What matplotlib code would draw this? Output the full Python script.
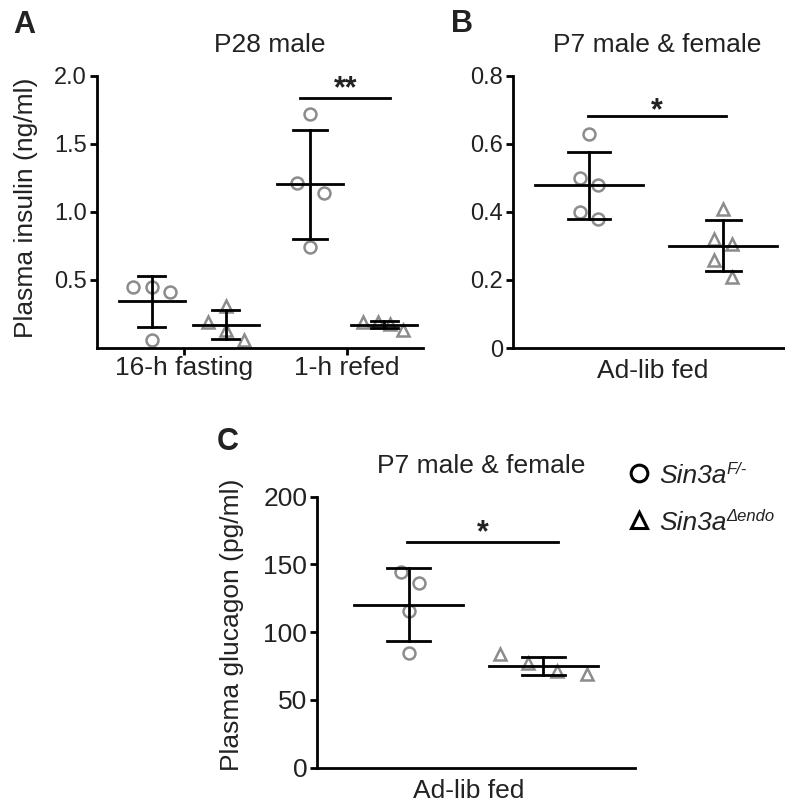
import numpy as np
import matplotlib.pyplot as plt
from matplotlib.lines import Line2D

plt.rcParams['font.family'] = ['Liberation Sans', 'DejaVu Sans']

# data
insulin_fast_wt = [0.45, 0.45, 0.41, 0.06]
insulin_fast_ko = [0.19, 0.31, 0.13, 0.06]
insulin_refed_wt = [1.72, 1.21, 1.14, 0.745]
insulin_refed_ko = [0.19, 0.19, 0.18, 0.13]
p7_insulin_wt = [0.63, 0.50, 0.48, 0.40, 0.38]
p7_insulin_ko = [0.41, 0.32, 0.305, 0.26, 0.21]
p7_glucagon_wt = [144.6, 136.5, 115.9, 84.4]
p7_glucagon_ko = [83.7, 77.5, 71.3, 68.9]

a_categories = ['16-h fasting', '1-h refed']
a_yticks = [0.5, 1.0, 1.5, 2.0]
b_yticks = [0, 0.2, 0.4, 0.6, 0.8]
c_yticks = [0, 50, 100, 150, 200]

GRAY = '#8c8c8c'
TXT = '#222222'
LW = 2.0
W, H = 785, 805


def draw_group(ax, x0, vals, jit, marker, half_w, cap_w):
    vals = np.array(vals)
    ax.plot(x0 + np.array(jit), vals, linestyle='none', marker=marker,
            markersize=8.6, markerfacecolor='none', markeredgecolor=GRAY,
            markeredgewidth=1.8, zorder=2, clip_on=False)
    m = vals.mean()
    sd = vals.std(ddof=1)
    ax.plot([x0 - half_w, x0 + half_w], [m, m], color='k', lw=LW, zorder=3)
    ax.plot([x0, x0], [m - sd, m + sd], color='k', lw=LW, zorder=3)
    for y in (m - sd, m + sd):
        ax.plot([x0 - cap_w, x0 + cap_w], [y, y], color='k', lw=LW, zorder=3)


def style(ax, ysize):
    for s in ('top', 'right'):
        ax.spines[s].set_visible(False)
    for s in ('left', 'bottom'):
        ax.spines[s].set_linewidth(LW)
        ax.spines[s].set_color('k')
    ax.tick_params(axis='y', length=5, width=LW, labelsize=ysize, pad=2,
                   labelcolor=TXT)
    ax.tick_params(axis='x', length=5, width=LW, labelsize=19, pad=1,
                   labelcolor=TXT)


def sig(ax, x1, x2, y, label, off):
    ax.plot([x1, x2], [y, y], color='k', lw=LW)
    ax.annotate(label, xy=((x1 + x2) / 2, y), xytext=(0, off),
                textcoords='offset points', ha='center', va='baseline',
                fontsize=22, fontweight='bold', color=TXT)


def axes_px(left, top, right, bottom):
    return fig.add_axes([left / W, 1 - bottom / H, (right - left) / W, (bottom - top) / H])


fig = plt.figure(figsize=(W / 100, H / 100), dpi=100)

# ---- A
axA = axes_px(96.5, 76, 423, 348)
style(axA, 17)
draw_group(axA, -0.2, insulin_fast_wt, [-0.115, 0, 0.11, 0], 'o', 0.202, 0.083)
draw_group(axA, 0.255, insulin_fast_ko, [-0.11, 0, 0, 0.11], '^', 0.202, 0.083)
draw_group(axA, 0.773, insulin_refed_wt, [0, -0.08, 0.086, 0], 'o', 0.202, 0.104)
draw_group(axA, 1.227, insulin_refed_ko, [-0.13, -0.037, 0.037, 0.117], '^', 0.202, 0.083)
axA.set_xlim(-0.54, 1.466)
axA.set_ylim(0, 2.0)
axA.set_xticks([0, 1])
axA.set_xticklabels(a_categories)
axA.set_yticks(a_yticks)
axA.set_yticklabels(['0.5', '1.0', '1.5', '2.0'])
axA.set_ylabel('Plasma insulin (ng/ml)', fontsize=19, color=TXT)
axA.yaxis.set_label_coords(-0.178, 0.515)
sig(axA, 0.712, 1.264, 1.836, '**', 1)
axA.text(0.53, 1.088, 'P28 male', transform=axA.transAxes, ha='center',
         va='baseline', fontsize=19, color=TXT)

# ---- B
axB = axes_px(513, 76, 785, 348)
style(axB, 17)
draw_group(axB, -0.39, p7_insulin_wt, [0, -0.055, 0.055, -0.055, 0.055], 'o', 0.331, 0.129)
draw_group(axB, 0.43, p7_insulin_ko, [0, -0.055, 0.055, -0.055, 0.055], '^', 0.331, 0.107)
axB.set_xlim(-0.859, 0.81)
axB.set_ylim(0, 0.8)
axB.set_xticks([0])
axB.set_xticklabels(['Ad-lib fed'])
axB.tick_params(axis='x', length=0, pad=8)
axB.set_yticks(b_yticks)
axB.set_yticklabels(['0', '0.2', '0.4', '0.6', '0.8'])
sig(axB, -0.4, 0.448, 0.682, '*', -2)
axB.text(0.53, 1.088, 'P7 male & female', transform=axB.transAxes,
         ha='center', va='baseline', fontsize=19, color=TXT)

# ---- C
axC = axes_px(317, 496.7, 635, 767.7)
style(axC, 19)
draw_group(axC, -0.371, p7_glucagon_wt, [-0.049, 0.061, 0, 0], 'o', 0.334, 0.132)
draw_group(axC, 0.454, p7_glucagon_ko, [-0.264, -0.09, 0.088, 0.268], '^', 0.334, 0.132)
axC.set_xlim(-0.933, 1.018)
axC.set_ylim(0, 200)
axC.set_xticks([0])
axC.set_xticklabels(['Ad-lib fed'])
axC.tick_params(axis='x', length=0, pad=8)
axC.set_yticks(c_yticks)
axC.set_ylabel('Plasma glucagon (pg/ml)', fontsize=19, color=TXT)
axC.yaxis.set_label_coords(-0.23, 0.527)
sig(axC, -0.382, 0.548, 166.8, '*', 0.5)
axC.text(0.516, 1.086, 'P7 male & female', transform=axC.transAxes,
         ha='center', va='baseline', fontsize=19, color=TXT)

# panel letters
fig.text(13 / W, 1 - 33 / H, 'A', fontsize=22, fontweight='bold', color=TXT)
fig.text(451 / W, 1 - 32 / H, 'B', fontsize=22, fontweight='bold', color=TXT)
fig.text(217 / W, 1 - 450 / H, 'C', fontsize=22, fontweight='bold', color=TXT)

# legend (drawn by hand, next to panel C)
legend_entries = [('o', 'Sin3a', 'F/-', 473, 483), ('^', 'Sin3a', '\u0394endo', 520, 530)]
for mk, name, sup, ymk, ybase in legend_entries:
    fig.add_artist(Line2D([639 / W], [1 - ymk / H], transform=fig.transFigure,
                          linestyle='none', marker=mk, markersize=12,
                          markerfacecolor='none', markeredgecolor='k',
                          markeredgewidth=2.2))
    t = fig.text(659 / W, 1 - ybase / H, name, fontsize=19, style='italic',
                 va='baseline', color=TXT)
    axC.annotate(sup, xy=(1.0, 0.45), xycoords=t, va='bottom', ha='left',
                 fontsize=12, style='italic', color=TXT, annotation_clip=False)

fig.savefig('out.png', dpi=100)
